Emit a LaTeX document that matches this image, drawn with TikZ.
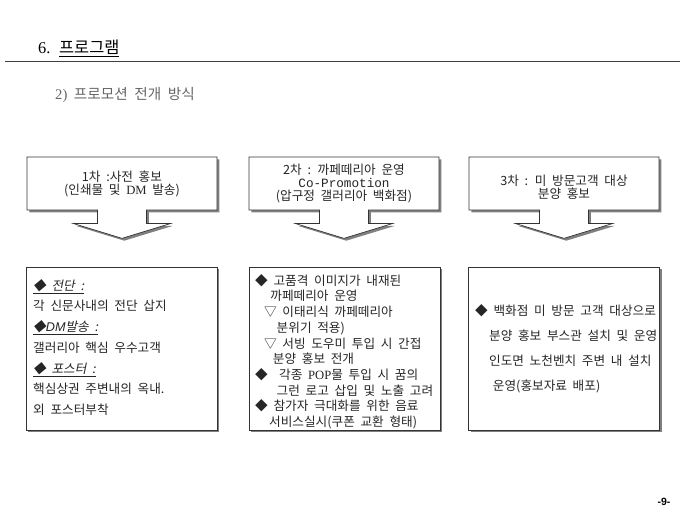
\documentclass[tikz,border=0pt]{standalone}
\usepackage{fontspec}
\setmainfont[WordSpace=2]{Noto Sans CJK KR}
\newfontfamily\krit[FakeSlant=0.2,WordSpace=2]{Noto Sans CJK KR}
\newfontfamily\lat{Liberation Serif}
\newfontfamily\latmono{Liberation Mono}
\newfontfamily\pgnum{Liberation Sans}
\usetikzlibrary{shapes.arrows,shadows}
\newcommand{\en}[1]{{\lat #1}}
\newcommand{\hd}[1]{\underline{\krit #1}}

\tikzset{
  boxshadow/.style={drop shadow={shadow xshift=0.07cm,shadow yshift=-0.07cm,fill=black!50,opacity=1}},
  stage/.style={arrow box,draw=black!80,line width=0.6pt,fill=white,boxshadow,
    inner sep=0,minimum width=5.7cm,minimum height=1.59cm,
    arrow box arrows={south:0.84cm},arrow box shaft width=1.47cm,
    arrow box head extend=0.72cm,arrow box head indent=0cm,arrow box tip angle=146,
    align=center,text=black!85,font=\fontsize{10.8}{11.2}\selectfont},
  detail/.style={draw=black!80,line width=0.6pt,fill=white,boxshadow,
    minimum width=5.73cm,minimum height=4.89cm},
  body/.style={anchor=north west,inner sep=0,align=left,text=black!85}
}

\begin{document}
\begin{tikzpicture}[x=0.03cm,y=-0.03cm]
\useasboundingbox (0,0) rectangle (680,510);

% title
\node[anchor=west,inner sep=0,font=\fontsize{14}{16}\selectfont] (title) at (38,48)
  {\en{6.} \underline{프로그램}};
\draw[black!75,line width=0.7pt] (5,61) -- (680,61);
\node[anchor=west,inner sep=0,text=black!60,font=\fontsize{12.5}{14}\selectfont] (sub) at (55,95)
  {\en{2)} 프로모션 전개 방식};

% stages
\node[stage] (s1) at (122,183.5) {1차 :사전 홍보\\(인쇄물 및 \en{DM} 발송)};
\node[stage] (s2) at (344,183.5) {2차 : 까페떼리아 운영\\{\latmono Co-Promotion}\\(압구정 갤러리아 백화점)};
\node[stage] (s3) at (564,183.5) {\rule{0pt}{16pt}3차 : 미 방문고객 대상\\분양 홍보};

% details
\node[detail] (d1) at (121.5,348.5) {};
\node[detail] (d2) at (344.5,348.5) {};
\node[detail] (d3) at (564,348.5) {};

\node[body,font=\fontsize{10.8}{17.7}\selectfont] (t1) at (33,279)
{\hd{◆ 전단 :}\\
 각 신문사내의 전단 삽지\\
 \hd{◆{\pgnum\itshape DM}발송 :}\\
 갤러리아 핵심 우수고객\\
 \hd{◆ 포스터 :}\\
 핵심상권 주변내의 옥내.\\
 외 포스터부착};

\node[body,font=\fontsize{10.8}{13.4}\selectfont] (t2) at (255,274)
{◆ 고품격 이미지가 내재된\\
 \hspace*{1.2em}까페떼리아 운영\\
 \hspace*{0.7em}▽ 이태리식 까페떼리아\\
 \hspace*{1.7em}분위기 적용)\\
 \hspace*{0.7em}▽ 서빙 도우미 투입 시 간접\\
 \hspace*{1.4em}분양 홍보 전개\\
 ◆ \ 각종 \en{POP}물 투입 시 꿈의\\
 \hspace*{1.7em}그런 로고 삽입 및 노출 고려\\
 ◆ 참가자 극대화를 위한 음료\\
 \hspace*{1.1em}서비스실시(쿠폰 교환 형태)};

\node[body,font=\fontsize{10.8}{21.3}\selectfont] (t3) at (475,304)
{◆ 백화점 미 방문 고객 대상으로\\
 \hspace*{1.1em}분양 홍보 부스관 설치 및 운영\\
 \hspace*{1.1em}인도면 노천벤치 주변 내 설치\\
 \hspace*{1.4em}운영(홍보자료 배포)};

% page number
\node[inner sep=0,font=\pgnum\bfseries\fontsize{9}{10}\selectfont] (pg) at (664,502) {-9-};
\end{tikzpicture}
\end{document}
